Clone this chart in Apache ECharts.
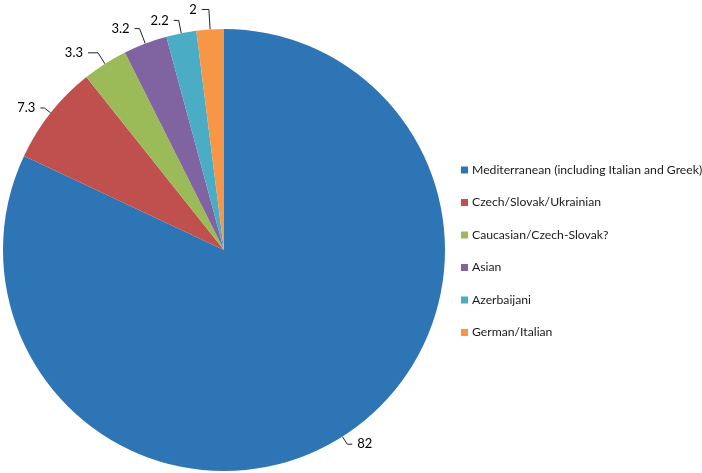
<!DOCTYPE html>
<html>
<head>
<meta charset="utf-8">
<script src="https://cdn.jsdelivr.net/npm/echarts@6/dist/echarts.min.js"></script>
<style>
  html, body { margin: 0; padding: 0; background: #fff; }
  #chart { width: 702px; height: 473px; }
</style>
</head>
<body>
<div id="chart"></div>
<script>
// groups and their shares, clockwise from 12 o'clock
var groups = [
  'Mediterranean (including Italian and Greek)',
  'Czech/Slovak/Ukrainian',
  'Caucasian/Czech-Slovak?',
  'Asian',
  'Azerbaijani',
  'German/Italian'
];
var shares = [82, 7.3, 3.3, 3.2, 2.2, 2];
var colors = ['#2E75B6', '#C0504D', '#9BBB59', '#8064A2', '#4BACC6', '#F79646'];
// leader line lengths per slice [radial part, horizontal part]
var leaders = [[9, 5], [8, 4], [13, 10], [16, 5], [13, 5], [20, 7]];

var chart = echarts.init(document.getElementById('chart'));

var pieData = groups.map(function (g, i) {
  return {
    name: g,
    value: shares[i],
    itemStyle: { color: colors[i] },
    labelLine: { length: leaders[i][0], length2: leaders[i][1] }
  };
});

chart.setOption({
  animation: false,
  textStyle: { fontFamily: 'Lato, "Open Sans", sans-serif' },
  legend: {
    orient: 'vertical',
    left: 456,
    top: 158.5,
    itemWidth: 7,
    itemHeight: 7,
    itemGap: 19.5,
    icon: 'rect',
    textStyle: { fontSize: 12.2, color: '#1a1a1a', lineHeight: 13, padding: [0, 0, 0, -1] },
    data: groups
  },
  series: [{
    type: 'pie',
    center: [224, 250],
    radius: 221,
    startAngle: 90,
    clockwise: true,
    avoidLabelOverlap: false,
    data: pieData,
    label: {
      position: 'outside',
      formatter: '{c}',
      fontSize: 13,
      color: '#000'
    },
    labelLine: {
      show: true,
      lineStyle: { color: '#222', width: 1 }
    },
    itemStyle: { borderWidth: 0 },
    emphasis: { disabled: true }
  }]
});

window.addEventListener('resize', function () { chart.resize(); });
</script>
</body>
</html>
